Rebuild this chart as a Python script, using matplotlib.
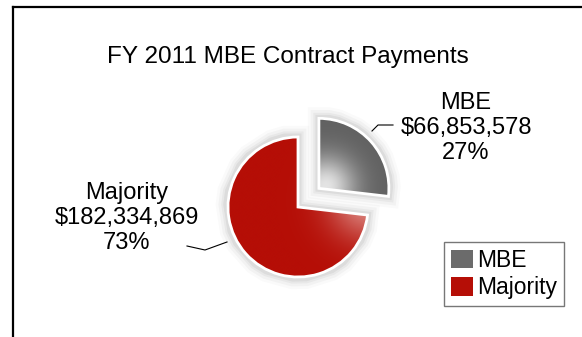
import numpy as np
import matplotlib.pyplot as plt
from matplotlib.lines import Line2D
from matplotlib.colors import LinearSegmentedColormap

plt.rcParams['font.family'] = ['Liberation Sans', 'DejaVu Sans']

labels = ['MBE', 'Majority']
payments = [66853578, 182334869]
percents = [27, 73]
colors = ['#6b6b6b', '#b50e06']
title = 'FY 2011 MBE Contract Payments'

W, H = 582, 337
fig = plt.figure(figsize=(W / 100, H / 100), dpi=100)
fig.patch.set_facecolor('white')

# outer frame (left and top edges visible)
fig.add_artist(Line2D([13 / W, 13 / W], [0, 1 - 7 / H], transform=fig.transFigure,
                      color='black', lw=1.6))
fig.add_artist(Line2D([13 / W, 1], [1 - 7 / H, 1 - 7 / H], transform=fig.transFigure,
                      color='black', lw=1.6))

fig.text(288 / W, 1 - 57 / H, title, ha='center', va='center', fontsize=17.5)

# pie axes, radius 1 = 70 px
r_px = 70
lim = 1.6
cx, cy = 298, 207
ax = fig.add_axes([(cx - lim * r_px) / W, (H - cy - lim * r_px) / H,
                   2 * lim * r_px / W, 2 * lim * r_px / H])

wedges, _ = ax.pie(payments, colors=colors, startangle=90, counterclock=False,
                   explode=[0.4, 0], radius=1,
                   wedgeprops=dict(edgecolor='white', linewidth=2))
ax.set_xlim(-lim, lim)
ax.set_ylim(-lim, lim)
ax.set_aspect('equal')
ax.axis('off')

# soft shadow around the slices
for w in wedges:
    for lw, a in [(16, 0.02), (12, 0.03), (8, 0.04), (5, 0.05)]:
        ax.add_patch(plt.Polygon(w.get_path().vertices, closed=True, fill=False,
                                 edgecolor='black', lw=lw, alpha=a, zorder=0.5,
                                 transform=w.get_transform()))

# gradient shading clipped to each wedge
xs = np.linspace(-lim, lim, 400)
X, Y = np.meshgrid(xs, xs)
shade = [
    ((0.4, 0.3), 0.42, LinearSegmentedColormap.from_list('g', ['#616161', '#e4e4e4'])),
    ((1.0, 0.1), 0.55, LinearSegmentedColormap.from_list('r', ['#b50e06', '#dc8a84'])),
]
for w, ((px, py), s, cmap) in zip(wedges, shade):
    light = np.exp(-((X - px) ** 2 + (Y - py) ** 2) / s ** 2)
    im = ax.imshow(light, extent=(-lim, lim, -lim, lim), origin='lower',
                   cmap=cmap, vmin=0, vmax=1, zorder=1.5, interpolation='bilinear')
    im.set_clip_path(w)
    w.set_facecolor('none')
    w.set_zorder(2)

# slice labels with leader lines
lbl_kw = dict(ha='center', va='center', fontsize=17, linespacing=1.18)
txt = [f'{n}\n${v:,}\n{p}%' for n, v, p in zip(labels, payments, percents)]
fig.text(466 / W, 1 - 128 / H, txt[0], **lbl_kw)
fig.text(127 / W, 1 - 218 / H, txt[1], **lbl_kw)
fig.add_artist(Line2D(np.array([372, 378, 393]) / W, 1 - np.array([131, 125, 125]) / H,
                      transform=fig.transFigure, color='black', lw=0.8))
fig.add_artist(Line2D(np.array([187, 205, 227]) / W, 1 - np.array([246, 250, 242]) / H,
                      transform=fig.transFigure, color='black', lw=0.8))

leg = fig.legend(wedges, labels, loc='upper left', bbox_to_anchor=(444 / W, 1 - 242 / H),
                 fontsize=16.5, frameon=True, fancybox=False, handlelength=0.95,
                 handleheight=0.85, handletextpad=0.2, borderpad=0.3, labelspacing=0.2,
                 borderaxespad=0)
leg.get_frame().set_edgecolor('#555555')
leg.get_frame().set_linewidth(1.0)
for h, c in zip(leg.legend_handles, colors):
    h.set_facecolor(c)
    h.set_edgecolor('none')

fig.savefig('out.png', dpi=100, facecolor='white')
